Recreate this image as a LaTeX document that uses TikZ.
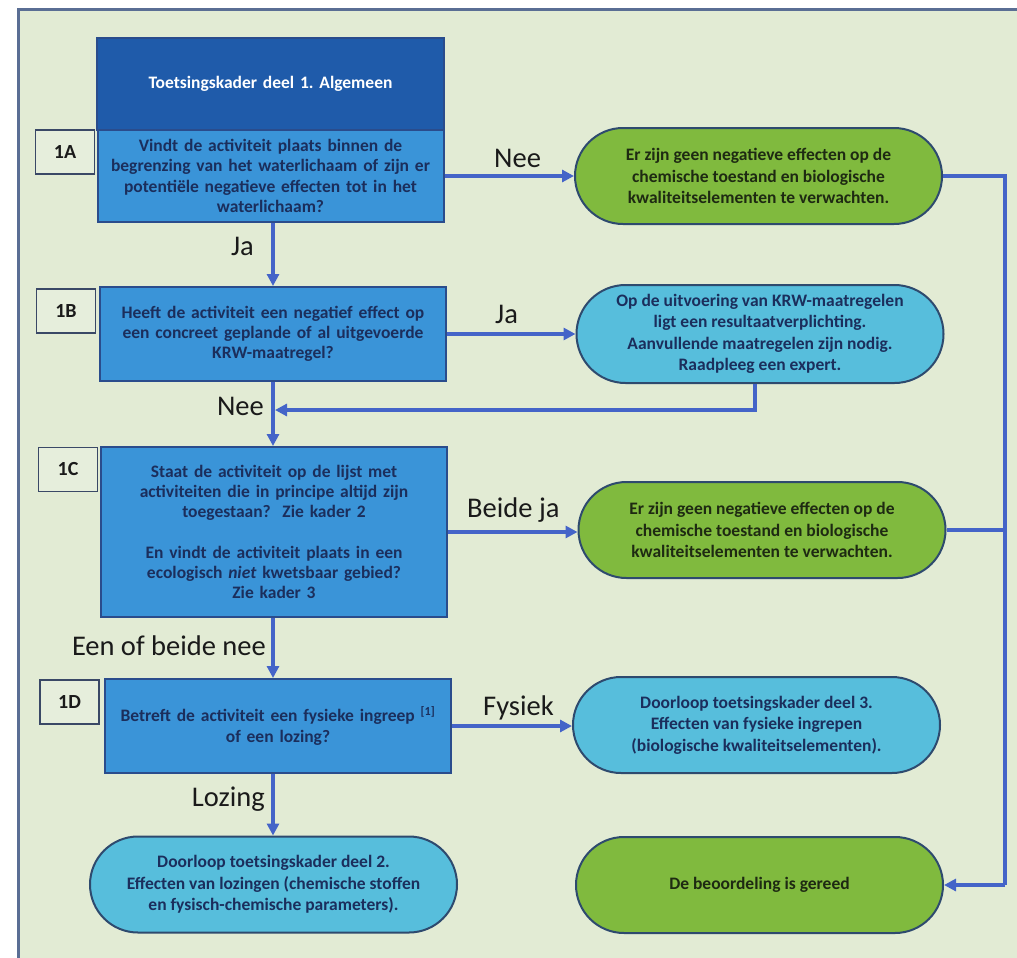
\documentclass[tikz,border=0pt]{standalone}
\usepackage{fontspec}
\setmainfont{Carlito}
\usetikzlibrary{arrows.meta,shapes.misc}
\definecolor{bg}{HTML}{E2EBD4}
\definecolor{idfill}{HTML}{E6EEDC}
\definecolor{framec}{HTML}{5A6E94}
\definecolor{titleblue}{HTML}{1F5BAA}
\definecolor{qblue}{HTML}{3A94D8}
\definecolor{qborder}{HTML}{2A4C8C}
\definecolor{eblue}{HTML}{57BEDC}
\definecolor{egreen}{HTML}{80BA3E}
\definecolor{eborder}{HTML}{2E4A6E}
\definecolor{idborder}{HTML}{3A4866}
\definecolor{arrowc}{HTML}{4464C8}
\definecolor{navy}{HTML}{1B2E5C}
\definecolor{dgreen}{HTML}{1E2A12}
\definecolor{labelc}{HTML}{1A1A1A}
\begin{document}
\frenchspacing
\begin{tikzpicture}[x=1pt,y=-1pt,
  boxtext/.style={font=\bfseries\fontsize{17.5}{20.3}\selectfont, align=center},
  qbox/.style={boxtext, draw=qborder, line width=2pt, fill=qblue, text=navy,
    minimum width=346pt, inner sep=0pt, text width=340pt},
  titlebox/.style={boxtext, draw=qborder, line width=2pt, fill=titleblue, text=white,
    minimum width=347pt, minimum height=92pt, inner sep=0pt, text width=340pt},
  idbox/.style={draw=idborder, line width=1.8pt, fill=idfill, minimum width=59pt, minimum height=44pt,
    inner sep=0pt, font=\bfseries\fontsize{20}{24}\selectfont, text=labelc},
  endbox/.style={font=\bfseries\fontsize{17.5}{21.5}\selectfont, align=center, draw=eborder,
    line width=2pt, rounded rectangle, rounded rectangle arc length=180,
    minimum width=367pt, minimum height=96pt, inner sep=0pt},
  greenend/.style={endbox, fill=egreen, text=dgreen},
  blueend/.style={endbox, fill=eblue, text=navy},
  conn/.style={draw=arrowc, line width=3.5pt},
  arr/.style={conn, -{Triangle[length=12pt,width=12pt]}},
  lab/.style={font=\fontsize{28.5}{30}\selectfont, text=labelc, inner sep=0pt}]
\useasboundingbox (0,0) rectangle (1017,958);
% background and frame
\fill[bg] (18,10) rectangle (1017,958);
\draw[framec, line width=3pt] (1017,10) -- (18,10) -- (18,958);
% trunk / bus reference coordinates
\coordinate (trunk) at (273,0);
\coordinate (bus) at (1005,0);
% question boxes
\node[titlebox] (title) at (270.5,84) {Toetsingskader deel 1. Algemeen};
\node[qbox, minimum height=92pt] (q1A) at (270.5,176) {Vindt de activiteit plaats binnen de\\begrenzing van het waterlichaam of zijn er\\potentiële negatieve effecten tot in het\\waterlichaam?};
\node[qbox, minimum height=94pt] (q1B) at (273,334) {Heeft de activiteit een negatief effect op\\een concreet geplande of al uitgevoerde\\KRW-maatregel?};
\node[qbox, minimum height=170pt] (q1C) at (274,532) {Staat de activiteit op de lijst met\\activiteiten die in principe altijd zijn\\toegestaan?~~Zie kader 2\\[20.3pt]En vindt de activiteit plaats in een\\ecologisch \textit{niet} kwetsbaar gebied?\\Zie kader 3};
\node[qbox, minimum height=94pt] (q1D) at (278,726) {Betreft de activiteit een fysieke ingreep \textsuperscript{[1]}\\of een lozing?};
% id boxes
\node[idbox] (l1A) at (65,152) {1A};
\node[idbox] (l1B) at (66,311) {1B};
\node[idbox] (l1C) at (68,469.5) {1C};
\node[idbox] (l1D) at (69.5,702) {1D};
% end boxes
\node[greenend] (e1) at (758.5,176) {Er zijn geen negatieve effecten op de\\chemische toestand en biologische\\kwaliteitselementen te verwachten.};
\node[blueend, minimum height=98pt] (e2) at (760,334) {Op de uitvoering van KRW-maatregelen\\ligt een resultaatverplichting.\\Aanvullende maatregelen zijn nodig.\\Raadpleeg een expert.};
\node[greenend] (e3) at (762,530) {Er zijn geen negatieve effecten op de\\chemische toestand en biologische\\kwaliteitselementen te verwachten.};
\node[blueend] (e4) at (756.5,725) {Doorloop toetsingskader deel 3.\\Effecten van fysieke ingrepen\\(biologische kwaliteitselementen).};
\node[blueend] (e5) at (273.5,884.5) {Doorloop toetsingskader deel 2.\\Effecten van lozingen (chemische stoffen\\en fysisch-chemische parameters).};
\node[greenend] (e6) at (759.5,885) {De beoordeling is gereed};
% vertical flow
\draw[arr] (q1A.south -| trunk) -- (q1B.north -| trunk);
\draw[arr] (q1B.south -| trunk) -- (q1C.north -| trunk);
\draw[arr] (q1C.south -| trunk) -- (q1D.north -| trunk);
\draw[arr] (q1D.south -| trunk) -- (e5.north -| trunk);
% horizontal flow
\draw[arr] (q1A.east) -- (q1A.east -| e1.west);
\draw[arr] (q1B.east) -- (q1B.east -| e2.west);
\draw[arr] (q1C.east) -- (q1C.east -| e3.west);
\draw[arr] (q1D.east) -- (q1D.east -| e4.west);
% return from e2
\coordinate (e2out) at ([xshift=-5pt]e2.south);
\coordinate (retY) at (0,410);
\draw[arr] (e2out) -- (e2out |- retY) -- ([xshift=2pt]trunk |- retY);
% bus on the right
\draw[conn] (e1.east) -- (bus |- e1.east) -- (bus |- e6.east);
\draw[conn] (e3.east) -- (bus |- e3.east);
\draw[arr] (bus |- e6.east) -- (e6.east);
% labels
\node[lab, anchor=base west] (tNee1) at (494,167) {Nee};
\node[lab, anchor=base east] (tJa1) at (254,255) {Ja};
\node[lab, anchor=base west] (tJa2) at (495,323) {Ja};
\node[lab, anchor=base east] (tNee2) at (264,415) {Nee};
\node[lab, anchor=base west] (tBeide) at (467,517) {Beide ja};
\node[lab, anchor=base east] (tEen) at (266,655) {Een of beide nee};
\node[lab, anchor=base west] (tFys) at (483,715) {Fysiek};
\node[lab, anchor=base east] (tLoz) at (265,806) {Lozing};
\end{tikzpicture}
\end{document}
